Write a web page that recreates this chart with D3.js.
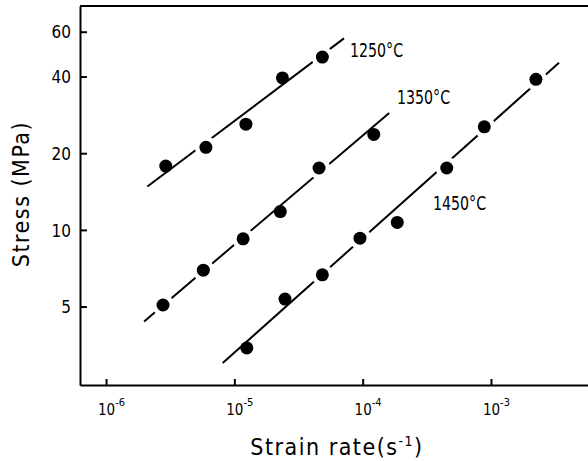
<!DOCTYPE html>
<html lang="en">
<head>
  <meta charset="UTF-8">
  <title>Stress vs strain rate</title>
  <script src="https://d3js.org/d3.v7.min.js"></script>
  <style>
    * { margin: 0; padding: 0; box-sizing: border-box; }
    body { background: #fff; width: 588px; height: 461px; overflow: hidden; }
    svg text { font-family: "DejaVu Sans Condensed", "DejaVu Sans", sans-serif; fill: #000; }
    .axis path, .axis line { stroke: #000; stroke-width: 2; }
  </style>
</head>
<body>
  <svg id="chart"></svg>

  <script>
    // strain rate (s^-1) and stress (MPa)
    const temps = ["1250°C", "1350°C", "1450°C"];

    const rate1250 = [2.92e-6, 6.0e-6, 1.23e-5, 2.37e-5, 4.85e-5];
    const stress1250 = [17.8, 21.1, 26.0, 39.5, 47.7];

    const rate1350 = [2.78e-6, 5.73e-6, 1.17e-5, 2.28e-5, 4.57e-5, 1.22e-4];
    const stress1350 = [5.07, 6.95, 9.22, 11.8, 17.5, 23.7];

    const rate1450 = [1.25e-5, 2.48e-5, 4.85e-5, 9.53e-5, 1.86e-4, 4.52e-4, 8.87e-4, 2.24e-3];
    const stress1450 = [3.44, 5.35, 6.66, 9.28, 10.7, 17.5, 25.4, 39.0];

    // fitted lines: [rate, stress] at each end
    const fit1250 = [[2.10e-6, 14.8], [7.15e-5, 56.5]];
    const fit1350 = [[1.98e-6, 4.37], [1.61e-4, 28.8]];
    const fit1450 = [[8.11e-6, 3.00], [3.39e-3, 45.3]];

    const xTicks = [1e-6, 1e-5, 1e-4, 1e-3];
    const xTickExp = ["-6", "-5", "-4", "-3"];
    const yTicks = [5, 10, 20, 40, 60];

    const series = [
      { name: temps[0], x: rate1250, y: stress1250, fit: fit1250, label: [350, 57] },
      { name: temps[1], x: rate1350, y: stress1350, fit: fit1350, label: [397, 104] },
      { name: temps[2], x: rate1450, y: stress1450, fit: fit1450, label: [433, 210] }
    ];

    const width = 588, height = 461;
    const margin = { top: 6, right: 0, bottom: 76, left: 80 };

    const svg = d3.select("#chart").attr("width", width).attr("height", height);

    const x = d3.scaleLog()
      .domain([Math.pow(10, -6.203), Math.pow(10, -2.244)])
      .range([margin.left, width - margin.right]);
    const y = d3.scaleLog()
      .domain([2.46, 75.7])
      .range([height - margin.bottom, margin.top]);

    // frame top line
    svg.append("line")
      .attr("x1", margin.left).attr("x2", width)
      .attr("y1", margin.top).attr("y2", margin.top)
      .attr("stroke", "#000").attr("stroke-width", 2);

    const xAxis = svg.append("g")
      .attr("class", "axis")
      .attr("transform", `translate(0,${height - margin.bottom})`)
      .call(d3.axisBottom(x).tickValues(xTicks).tickSizeInner(-6).tickSizeOuter(0).tickFormat(""));

    xAxis.selectAll(".tick").each(function(d, i) {
      const g = d3.select(this);
      const base = g.append("text")
        .attr("y", 30)
        .attr("text-anchor", "middle")
        .style("font-size", "15px")
        .text("10");
      const w = base.node().getComputedTextLength();
      g.append("text")
        .attr("x", w / 2)
        .attr("y", 21)
        .attr("text-anchor", "start")
        .style("font-size", "11px")
        .text(xTickExp[i]);
    });

    const yAxis = svg.append("g")
      .attr("class", "axis")
      .attr("transform", `translate(${margin.left},0)`)
      .call(d3.axisLeft(y).tickValues(yTicks).tickSizeInner(-7).tickSizeOuter(0).tickPadding(9).tickFormat(d3.format("d")));

    yAxis.selectAll("text").style("font-size", "17px").attr("dy", "0.36em");

    const line = d3.line().x(d => x(d[0])).y(d => y(d[1]));

    series.forEach(s => {
      const pts = s.x.map((v, i) => [v, s.y[i]]);

      svg.append("path")
        .attr("d", line(s.fit))
        .attr("fill", "none")
        .attr("stroke", "#000")
        .attr("stroke-width", 2);

      // white gaps where the line passes through a dot
      const [p0, p1] = s.fit.map(d => [x(d[0]), y(d[1])]);
      const dx = p1[0] - p0[0], dy = p1[1] - p0[1];
      const len = Math.hypot(dx, dy);
      pts.forEach(d => {
        const px = x(d[0]), py = y(d[1]);
        const dist = Math.abs(dy * (px - p0[0]) - dx * (py - p0[1])) / len;
        if (dist < 4) {
          svg.append("circle")
            .attr("cx", px).attr("cy", py).attr("r", 11)
            .attr("fill", "#fff");
        }
      });

      svg.selectAll(null)
        .data(pts)
        .enter().append("circle")
        .attr("cx", d => x(d[0]))
        .attr("cy", d => y(d[1]))
        .attr("r", 6.5)
        .attr("fill", "#000");

      svg.append("text")
        .attr("transform", `translate(${s.label[0]},${s.label[1]}) scale(0.83,1)`)
        .style("font-size", "19px")
        .text(s.name);
    });

    // axis titles
    svg.append("text")
      .attr("x", 337)
      .attr("y", 455)
      .attr("text-anchor", "middle")
      .style("font-size", "23px")
      .style("letter-spacing", "1.5px")
      .html("Strain rate(s<tspan dy='-9' font-size='14px'>-1</tspan><tspan dy='9'>)</tspan>");

    svg.append("text")
      .attr("transform", "translate(29,194) rotate(-90)")
      .attr("text-anchor", "middle")
      .style("font-size", "23px")
      .style("letter-spacing", "1.5px")
      .text("Stress (MPa)");
  </script>
</body>
</html>
